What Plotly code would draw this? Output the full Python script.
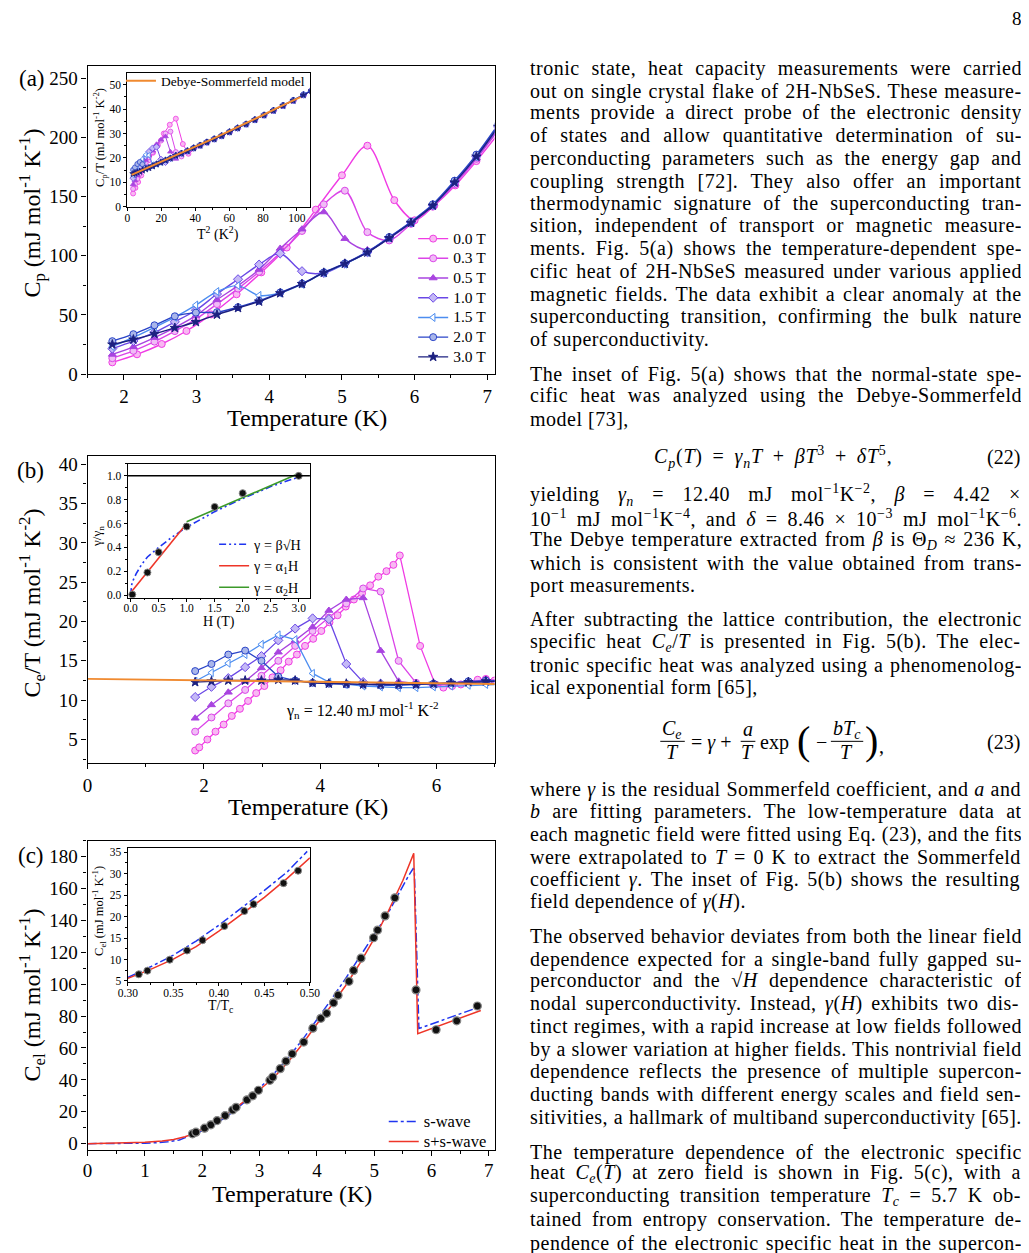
import re
import plotly.graph_objects as go

W, H = 1029, 1253
OX, OY = 8, 8   # page body margin of the html page
FONT = "Liberation Serif"

# ---------------- panel (a): Cp vs T ----------------
T_A = [1.84, 2.13, 2.42, 2.70, 2.99, 3.28, 3.57, 3.86, 4.15, 4.45, 4.75, 5.04, 5.35, 5.65, 5.95, 6.25, 6.55, 6.85, 7.15]
T_A0 = [1.84, 2.18, 2.52, 2.86, 3.20, 3.55, 3.89, 4.24, 4.64, 5.00, 5.35, 5.72, 6.00, 6.27, 6.56, 6.85, 7.15]
CP_00 = [10.0, 16.8, 25.5, 36.5, 50.5, 67.5, 86.0, 107.0, 139.0, 168.0, 193.0, 147.0, 130.0, 142.5, 159.5, 180.0, 203.0]
CP_03 = [13.5, 19.7, 27.5, 36.4, 46.5, 59.2, 72.3, 86.5, 102.5, 121.0, 143.5, 155.0, 120.0, 113.0, 127.0, 141.5, 160.5, 182.0, 206.0]
CP_05 = [16.7, 23.1, 30.9, 39.4, 49.5, 62.8, 74.8, 88.4, 106.2, 122.5, 137.0, 114.5, 105.0, 114.8, 127.5, 142.0, 161.0, 182.5, 207.0]
CP_10 = [21.6, 28.0, 35.3, 44.2, 54.0, 67.7, 80.2, 92.6, 102.0, 87.0, 85.5, 93.4, 103.0, 115.4, 128.2, 142.8, 162.3, 184.0, 209.0]
CP_15 = [23.5, 31.0, 39.5, 48.2, 58.4, 69.8, 74.8, 66.5, 68.6, 76.0, 85.5, 93.0, 102.9, 115.2, 128.0, 142.6, 162.5, 184.0, 209.5]
CP_20 = [27.9, 33.8, 41.3, 48.9, 52.0, 52.4, 56.6, 62.0, 69.0, 76.5, 86.0, 93.6, 103.5, 115.8, 128.8, 143.5, 163.5, 185.5, 211.0]
CP_30 = [25.1, 29.3, 34.1, 39.1, 44.1, 50.3, 55.9, 61.4, 68.4, 76.2, 85.7, 93.3, 102.8, 115.0, 127.9, 142.4, 162.0, 183.8, 209.0]

# inset (a): Cp/T vs T^2
X_IN = [3.4, 4.5, 5.9, 7.3, 8.9, 10.8, 12.7, 14.9, 17.2, 19.8, 22.5, 25.4, 28.6, 31.9, 35.4, 39.1, 42.9,
        46.9, 51.2, 55.6, 60.2, 65.0, 70.0, 75.2, 80.6, 86.1, 91.8, 97.8, 103.8, 108.5]
CPT_30 = [13.5, 13.7, 14.1, 14.4, 14.9, 15.4, 15.9, 16.6, 17.4, 18.1, 19.0, 19.8, 20.9, 21.8, 22.8, 24.0, 25.1,
          26.4, 27.7, 29.0, 30.6, 32.2, 33.8, 35.6, 37.5, 39.4, 41.4, 43.5, 45.8, 47.5]
CPT_20 = [15.1, 16.1, 17.5, 18.3, 17.4, 16.0, 16.0, 16.7, 17.5, 18.2, 19.1, 19.9, 21.0, 22.0, 23.0, 24.2, 25.3,
          26.6, 27.9, 29.2, 30.8, 32.4, 34.0, 35.8, 37.7, 39.6, 41.7, 43.8, 46.1, 47.8]
CPT_15 = [13.0, 15.0, 16.5, 18.0, 19.5, 21.3, 21.1, 17.2] + CPT_30[8:]
CPT_10 = [11.7, 13.1, 14.6, 16.4, 18.1, 20.6, 22.5, 24.0, 24.5, 19.4, 18.2] + CPT_30[11:]
CPT_05 = [9.1, 10.8, 12.8, 14.6, 16.6, 19.1, 21.0, 22.9, 25.6, 27.4, 28.8, 22.5, 19.6] + CPT_30[13:]
CPT_03 = [7.3, 9.2, 11.4, 13.5, 15.6, 18.0, 20.3, 22.4, 24.7, 27.1, 30.0, 30.8, 22.4, 20.6] + CPT_30[14:]
X_IN0 = [3.4, 4.75, 6.35, 8.18, 10.24, 12.6, 15.1, 18.0, 21.5, 25.0, 28.6, 32.7, 36.0] + X_IN[16:]
CPT_00 = [5.4, 7.7, 10.1, 12.8, 15.8, 19.0, 22.1, 25.2, 30.0, 33.6, 36.1, 25.7, 21.7] + CPT_30[16:]
X_DS = [2.5, 10, 20, 30, 40, 50, 60, 70, 80, 90, 102]
CPT_DS = [13.0, 15.3, 18.4, 21.4, 24.5, 27.7, 31.0, 34.2, 37.6, 41.0, 44.9]

# ---------------- panel (b): Ce/T vs T ----------------
T_B = [1.85, 2.13, 2.42, 2.71, 2.99, 3.28, 3.57, 3.87, 4.15, 4.45, 4.74, 5.04, 5.35, 5.65, 5.95, 6.25, 6.55, 6.85, 7.1]
CE_30 = [12.3, 12.4, 12.5, 12.5, 12.5, 12.6, 12.5, 12.2, 12.1, 12.1, 12.0, 12.0, 12.0, 12.0, 12.1, 12.2, 12.3, 12.4, 12.4]
CE_20 = [13.7, 14.6, 15.8, 16.3, 15.0, 13.0, 12.5, 12.2, 12.1, 12.0, 12.0, 11.9, 11.9, 12.0, 12.1, 12.2, 12.4, 12.5, 12.5]
CE_15 = [12.4, 13.5, 14.7, 15.8, 17.1, 18.3, 17.7, 13.4, 12.3, 12.0, 11.8, 11.7, 11.6, 11.6, 11.7, 11.8, 11.9, 12.0, 12.0]
CE_10 = [10.4, 11.7, 12.8, 14.2, 15.6, 17.6, 19.1, 20.4, 20.3, 14.6, 12.3, 12.1, 12.0, 12.0, 12.0, 12.1, 12.3, 12.4, 12.4]
CE_05 = [7.7, 9.4, 11.0, 12.4, 14.1, 16.1, 17.6, 19.3, 21.4, 22.8, 23.0, 16.3, 12.4, 12.1, 12.0, 12.1, 12.3, 12.5, 12.5]
CE_03 = [6.0, 7.8, 9.6, 11.3, 13.1, 15.0, 16.9, 18.8, 20.5, 22.3, 24.2, 23.8, 15.0, 12.2, 11.9, 12.0, 12.3, 12.6, 12.5]
T_B0 = [1.85, 1.92, 2.06, 2.20, 2.34, 2.48, 2.62, 2.76, 2.90, 3.04, 3.18, 3.32, 3.46, 3.60, 3.74, 3.88, 4.02,
        4.16, 4.30, 4.44, 4.58, 4.72, 4.86, 5.00, 5.14, 5.26, 5.37, 5.72, 5.98, 6.12, 6.27, 6.42, 6.56, 6.71, 6.85, 7.0]
CE_00 = [3.6, 4.0, 5.0, 6.0, 6.9, 8.0, 8.9, 9.9, 10.9, 11.8, 12.9, 13.8, 14.9, 15.8, 16.9, 17.8, 18.8,
         19.9, 20.8, 21.9, 22.8, 23.6, 24.6, 25.7, 26.4, 27.2, 28.4, 16.9, 12.0, 11.6, 11.8, 12.0, 12.3, 12.6, 12.7, 12.5]
T_GN = [0.0, 7.1]
CE_GN = [12.7, 12.05]

# inset (b): gamma/gamma_n vs H
H_PTS = [0.03, 0.3, 0.5, 1.0, 1.5, 2.0, 3.0]
G_PTS = [0.005, 0.19, 0.36, 0.575, 0.74, 0.855, 1.0]
H_SQRT = [0.0, 0.02, 0.05, 0.1, 0.2, 0.3, 0.5, 0.75, 1.0, 1.5, 2.0, 2.5, 3.0]
G_SQRT = [0.0, 0.09, 0.13, 0.18, 0.26, 0.32, 0.40, 0.49, 0.57, 0.70, 0.81, 0.91, 0.99]
H_LIN1 = [0.0, 1.0]
G_LIN1 = [0.02, 0.60]
H_LIN2 = [1.0, 3.0]
G_LIN2 = [0.615, 1.02]

# ---------------- panel (c): Cel vs T ----------------
T_C = [1.83, 1.89, 2.04, 2.15, 2.26, 2.40, 2.53, 2.59, 2.78, 2.88, 2.98, 3.18, 3.23, 3.36, 3.46, 3.57, 3.77,
       3.93, 4.07, 4.17, 4.29, 4.37, 4.56, 4.64, 4.77, 4.99, 5.06, 5.19, 5.36, 5.73, 6.08, 6.44, 6.80]
CEL = [6.2, 7.2, 9.7, 11.8, 14.5, 17.6, 21.1, 22.8, 27.5, 30.0, 33.5, 39.7, 41.8, 47.0, 51.7, 56.3, 63.7,
       72.4, 78.6, 81.7, 88.3, 93.1, 101.8, 108.6, 116.3, 129.1, 133.9, 142.8, 154.1, 96.4, 71.4, 77.0, 86.3]
T_SS = [0.0, 0.5, 1.0, 1.3, 1.5, 1.7, 1.85, 2.0, 2.25, 2.5, 2.75, 3.0, 3.25, 3.5, 3.75, 4.0, 4.25, 4.5,
        4.75, 5.0, 5.25, 5.5, 5.69, 5.76, 6.86]
CEL_SS = [0.0, 0.3, 0.9, 1.6, 2.6, 4.3, 6.3, 9.2, 14.0, 20.3, 27.0, 33.8, 41.5, 51.4, 62.5, 75.0, 86.5, 99.0,
          113.0, 128.5, 146.0, 165.0, 182.0, 69.0, 83.5]
T_S = [0.0, 0.5, 1.0, 1.2, 1.4, 1.6, 1.85, 2.0, 2.25, 2.5, 2.75, 3.0, 3.25, 3.5, 3.75, 4.0, 4.25, 4.5,
       4.75, 5.0, 5.25, 5.45, 5.6, 5.68, 5.70, 5.78, 6.86]
CEL_S = [0.0, 0.05, 0.3, 0.6, 1.2, 2.3, 5.6, 8.0, 12.8, 19.0, 26.5, 34.8, 43.8, 54.0, 65.2, 77.5, 90.3, 103.5,
         117.0, 131.0, 145.0, 158.5, 168.0, 172.5, 172.0, 72.2, 86.0]

# inset (c): Cel vs T/Tc
TR_PTS = [0.312, 0.3215, 0.346, 0.365, 0.382, 0.406, 0.428, 0.438, 0.471, 0.487]
CR_PTS = [6.55, 7.4, 9.96, 12.1, 14.5, 17.8, 21.3, 22.9, 27.8, 30.7]
TR_SS = [0.30, 0.325, 0.35, 0.375, 0.40, 0.425, 0.45, 0.475, 0.50]
CR_SS = [5.6, 7.7, 10.1, 13.0, 16.6, 20.5, 24.5, 28.9, 33.7]
TR_S = [0.30, 0.325, 0.35, 0.375, 0.40, 0.425, 0.45, 0.475, 0.497]
CR_S = [5.8, 8.3, 11.0, 14.3, 18.0, 22.0, 26.1, 30.4, 35.2]

FIELDS = ["0.0 T", "0.3 T", "0.5 T", "1.0 T", "1.5 T", "2.0 T", "3.0 T"]
COLORS = ["#F03CE4", "#DB45E8", "#A944E0", "#6A48E6", "#4C8DF0", "#2A44C8", "#1C2080"]
FILLS = ["#F8B8F2", "#F0BCF6", "#A944E0", "#C4B8F6", "#FFFFFF", "#A9B6EA", "#1C2080"]
SYMBOLS = ["circle", "circle", "triangle-up", "diamond", "triangle-left", "circle", "star"]


def px(x):
    return (x - OX) / W


def py(y):
    return 1 - (y - OY) / H


def big(s, size):
    # legend text drawn larger than the legend row height would allow
    return "<span style='font-size:%.1fpx'>%s</span>" % (size, s)


def axis(dom, rng, dtick, minor, tick0=0, size=19, tl=5, anchor=None, fmt=None, standoff=0):
    d = dict(domain=dom, range=rng, dtick=dtick, tick0=tick0,
             showline=True, linecolor="black", linewidth=1.3, mirror=True,
             ticks="outside", ticklen=tl, tickwidth=1.2, tickcolor="black", ticklabelstandoff=standoff,
             minor=dict(dtick=minor, ticks="outside", ticklen=tl * 0.6, tickwidth=1, tickcolor="black", showgrid=False),
             showgrid=False, zeroline=False, anchor=anchor, fixedrange=True,
             tickfont=dict(family=FONT, size=size, color="black"))
    if fmt:
        d["tickformat"] = fmt
    return d


fig = go.Figure()

# (a) main
a_x = [T_A0] + [T_A] * 6
a_y = [CP_00, CP_03, CP_05, CP_10, CP_15, CP_20, CP_30]
for i in range(7):
    fig.add_trace(go.Scatter(
        x=a_x[i], y=a_y[i], mode="lines+markers", name=big(FIELDS[i], 15.5), xaxis="x", yaxis="y",
        line=dict(color=COLORS[i], width=1.4, shape="spline", smoothing=0.9),
        marker=dict(symbol=SYMBOLS[i], size=7, color=FILLS[i], line=dict(color=COLORS[i], width=1)),
        legend="legend"))

# (a) inset
in_x = [X_IN0] + [X_IN] * 6
in_y = [CPT_00, CPT_03, CPT_05, CPT_10, CPT_15, CPT_20, CPT_30]
for i in range(7):
    fig.add_trace(go.Scatter(
        x=in_x[i], y=in_y[i], mode="lines+markers", showlegend=False, xaxis="x2", yaxis="y2",
        line=dict(color=COLORS[i], width=1),
        marker=dict(symbol=SYMBOLS[i], size=5, color=FILLS[i], line=dict(color=COLORS[i], width=0.8))))
fig.add_trace(go.Scatter(x=X_DS, y=CPT_DS, mode="lines", name="Debye-Sommerfeld model",
                         xaxis="x2", yaxis="y2", line=dict(color="#F08A30", width=2), legend="legend2"))

# (b) main
b_x = [T_B0] + [T_B] * 6
b_y = [CE_00, CE_03, CE_05, CE_10, CE_15, CE_20, CE_30]
for i in range(7):
    fig.add_trace(go.Scatter(
        x=b_x[i], y=b_y[i], mode="lines+markers", showlegend=False, xaxis="x3", yaxis="y3",
        line=dict(color=COLORS[i], width=1.3),
        marker=dict(symbol=SYMBOLS[i], size=7, color=FILLS[i], line=dict(color=COLORS[i], width=1))))
fig.add_trace(go.Scatter(x=T_GN, y=CE_GN, mode="lines", showlegend=False, xaxis="x3", yaxis="y3",
                         line=dict(color="#F08A30", width=1.8)))

# (b) inset
fig.add_trace(go.Scatter(x=H_SQRT, y=G_SQRT, mode="lines", name="γ = β√H", xaxis="x4", yaxis="y4",
                         line=dict(color="#1F35F0", width=1.6, dash="7px,3px,2px,3px,2px,3px"),
                         legend="legend3"))
fig.add_trace(go.Scatter(x=H_LIN1, y=G_LIN1, mode="lines", name="γ = α<sub>1</sub>H", xaxis="x4", yaxis="y4",
                         line=dict(color="#EE3528", width=1.6), legend="legend3"))
fig.add_trace(go.Scatter(x=H_LIN2, y=G_LIN2, mode="lines", name="γ = α<sub>2</sub>H", xaxis="x4", yaxis="y4",
                         line=dict(color="#3C9A2A", width=1.6), legend="legend3"))
fig.add_trace(go.Scatter(x=H_PTS, y=G_PTS, mode="markers", showlegend=False, xaxis="x4", yaxis="y4",
                         marker=dict(size=7, color="#111111", line=dict(color="#888888", width=1))))

# (c) main
fig.add_trace(go.Scatter(x=T_S, y=CEL_S, mode="lines", name=big("s-wave", 16.5), xaxis="x5", yaxis="y5",
                         line=dict(color="#1F35F0", width=1.5, dash="dashdot"), legend="legend4"))
fig.add_trace(go.Scatter(x=T_SS, y=CEL_SS, mode="lines", name=big("s+s-wave", 16.5), xaxis="x5", yaxis="y5",
                         line=dict(color="#EE3528", width=1.5), legend="legend4"))
fig.add_trace(go.Scatter(x=T_C, y=CEL, mode="markers", showlegend=False, xaxis="x5", yaxis="y5",
                         marker=dict(size=8, color="#111111", line=dict(color="#888888", width=1.2))))

# (c) inset
fig.add_trace(go.Scatter(x=TR_S, y=CR_S, mode="lines", showlegend=False, xaxis="x6", yaxis="y6",
                         line=dict(color="#1F35F0", width=1.5, dash="dashdot")))
fig.add_trace(go.Scatter(x=TR_SS, y=CR_SS, mode="lines", showlegend=False, xaxis="x6", yaxis="y6",
                         line=dict(color="#EE3528", width=1.5)))
fig.add_trace(go.Scatter(x=TR_PTS, y=CR_PTS, mode="markers", showlegend=False, xaxis="x6", yaxis="y6",
                         marker=dict(size=7, color="#111111", line=dict(color="#888888", width=1))))

leg = dict(xanchor="left", yanchor="top", bgcolor="rgba(0,0,0,0)", borderwidth=0,
           tracegroupgap=0, itemclick=False, itemdoubleclick=False)

fig.update_layout(
    width=W, height=H, autosize=False, margin=dict(l=0, r=0, t=0, b=0),
    paper_bgcolor="white", plot_bgcolor="white",
    xaxis=axis([px(79), px(494)], [1.5, 7.1], 1, 0.5, anchor="y"),
    yaxis=axis([py(376), py(65)], [0, 260], 50, 25, anchor="x"),
    xaxis2=axis([px(119.5), px(305.5)], [0, 107.5], 20, 10, size=11.5, tl=3, anchor="y2", standoff=-3),
    yaxis2=axis([py(206.7), py(72)], [0, 54.7], 10, 5, size=11.5, tl=3, anchor="x2"),
    xaxis3=axis([px(79), px(494)], [0, 7.0], 2, 1, anchor="y3"),
    yaxis3=axis([py(769), py(459)], [2, 41], 5, 2.5, tick0=5, anchor="x3"),
    xaxis4=axis([px(120), px(305.7)], [-0.05, 3.2], 0.5, 0.25, size=11.5, tl=3, anchor="y4", fmt=".1f", standoff=-3),
    yaxis4=axis([py(601.7), py(466.7)], [-0.02, 1.10], 0.2, 0.1, size=11.5, tl=3, anchor="x4", fmt=".1f"),
    xaxis5=axis([px(79), px(494)], [0, 7.1], 1, 0.5, anchor="y5", standoff=-2),
    yaxis5=axis([py(1160), py(847.3)], [-4, 190], 20, 10, anchor="x5"),
    xaxis6=axis([px(120), px(305.7)], [0.30, 0.50], 0.05, 0.025, tick0=0.3, size=11.5, tl=3, anchor="y6",
                fmt=".2f", standoff=-3),
    yaxis6=axis([py(990), py(854.3)], [4.8, 36.1], 5, 2.5, tick0=5, size=11.5, tl=3, anchor="x6"),
    legend=dict(leg, x=px(411), y=py(224), font=dict(family=FONT, size=12.85, color="black")),
    legend2=dict(leg, x=px(113), y=py(64), font=dict(family=FONT, size=13.5, color="black")),
    legend3=dict(leg, x=px(208), y=py(532), font=dict(family=FONT, size=14.2, color="black")),
    legend4=dict(leg, x=px(381), y=py(1116), font=dict(family=FONT, size=13.1, color="black")),
)

# reference line gamma/gamma_n = 1 in inset (b)
fig.add_shape(type="line", xref="x4 domain", yref="y4", x0=0, x1=1, y0=1.0, y1=1.0,
              line=dict(color="black", width=1.5))

anns = []


def text(x, y, s, size, anchor="center", angle=0):
    anns.append(dict(x=px(x), y=py(y), xref="paper", yref="paper", text=s, showarrow=False,
                     xanchor=anchor, yanchor="middle", textangle=angle,
                     font=dict(family=FONT, size=size, color="black")))


# figure labels and axis titles
text(22, 77, "(a)", 23)
text(21, 473, "(b)", 23)
text(21, 862, "(c)", 23)
text(303, 420, "Temperature (K)", 24)
text(304, 813, "Temperature (K)", 24)
text(287, 1204, "Temperature (K)", 24)
text(22, 213, "C<sub>p</sub> (mJ mol<sup>-1</sup> K<sup>-1</sup>)", 24, angle=-90)
text(22, 607, "C<sub>e</sub>/T (mJ mol<sup>-1</sup> K<sup>-2</sup>)", 24, angle=-90)
text(22, 1003, "C<sub>el</sub> (mJ mol<sup>-1</sup> K<sup>-1</sup>)", 24, angle=-90)
text(91, 137, "C<sub>p</sub>/T (mJ mol<sup>-1</sup> K<sup>-2</sup>)", 12.5, angle=-90)
text(212, 234, "T<sup>2</sup> (K<sup>2</sup>)", 14)
text(89, 540, "γ/γ<sub>n</sub>", 13, angle=-90)
text(213, 626, "H (T)", 14)
text(90, 918, "C<sub>el</sub> (mJ mol<sup>-1</sup> K<sup>-1</sup>)", 12.5, angle=-90)
text(215, 1015, "T/T<sub>c</sub>", 14)
text(279, 715, "γ<sub>n</sub> = 12.40 mJ mol<sup>-1</sup> K<sup>-2</sup>", 16, anchor="left")

# page text (right column); last lines of paragraphs are not justified
BODY = [
    (67, "tronic state, heat capacity measurements were carried"),
    (90, "out on single crystal flake of 2H-NbSeS. These measure-"),
    (112, "ments provide a direct probe of the electronic density"),
    (135, "of states and allow quantitative determination of su-"),
    (158, "perconducting parameters such as the energy gap and"),
    (181, "coupling strength [72]. They also offer an important"),
    (204, "thermodynamic signature of the superconducting tran-"),
    (226, "sition, independent of transport or magnetic measure-"),
    (249, "ments. Fig. 5(a) shows the temperature-dependent spe-"),
    (272, "cific heat of 2H-NbSeS measured under various applied"),
    (295, "magnetic fields. The data exhibit a clear anomaly at the"),
    (318, "superconducting transition, confirming the bulk nature"),
    (341, "of superconductivity."),
    (376, "The inset of Fig. 5(a) shows that the normal-state spe-"),
    (398, "cific heat was analyzed using the Debye-Sommerfeld"),
    (421, "model [73],"),
    (498, "yielding <i>γ<sub>n</sub></i> = 12.40 mJ mol<sup>−1</sup>K<sup>−2</sup>, <i>β</i> = 4.42 ×"),
    (521, "10<sup>−1</sup> mJ mol<sup>−1</sup>K<sup>−4</sup>, and <i>δ</i> = 8.46 × 10<sup>−3</sup> mJ mol<sup>−1</sup>K<sup>−6</sup>."),
    (544, "The Debye temperature extracted from <i>β</i> is Θ<sub><i>D</i></sub> ≈ 236 K,"),
    (567, "which is consistent with the value obtained from trans-"),
    (590, "port measurements."),
    (624, "After subtracting the lattice contribution, the electronic"),
    (647, "specific heat <i>C<sub>e</sub></i>/<i>T</i> is presented in Fig. 5(b). The elec-"),
    (670, "tronic specific heat was analyzed using a phenomenolog-"),
    (693, "ical exponential form [65],"),
    (796, "where <i>γ</i> is the residual Sommerfeld coefficient, and <i>a</i> and"),
    (818, "<i>b</i> are fitting parameters. The low-temperature data at"),
    (841, "each magnetic field were fitted using Eq. (23), and the fits"),
    (864, "were extrapolated to <i>T</i> = 0 K to extract the Sommerfeld"),
    (887, "coefficient <i>γ</i>. The inset of Fig. 5(b) shows the resulting"),
    (909, "field dependence of <i>γ</i>(<i>H</i>)."),
    (944, "The observed behavior deviates from both the linear field"),
    (967, "dependence expected for a single-band fully gapped su-"),
    (989, "perconductor and the √<i>H</i> dependence characteristic of"),
    (1012, "nodal superconductivity. Instead, <i>γ</i>(<i>H</i>) exhibits two dis-"),
    (1035, "tinct regimes, with a rapid increase at low fields followed"),
    (1058, "by a slower variation at higher fields. This nontrivial field"),
    (1081, "dependence reflects the presence of multiple supercon-"),
    (1104, "ducting bands with different energy scales and field sen-"),
    (1127, "sitivities, a hallmark of multiband superconductivity [65]."),
    (1162, "The temperature dependence of the electronic specific"),
    (1184, "heat <i>C<sub>e</sub></i>(<i>T</i>) at zero field is shown in Fig. 5(c), with a"),
    (1207, "superconducting transition temperature <i>T<sub>c</sub></i> = 5.7 K ob-"),
    (1230, "tained from entropy conservation. The temperature de-"),
    (1254, "pendence of the electronic specific heat in the supercon-"),
]
PARA_END = {341, 421, 590, 693, 909}

# approximate Times advance widths (1/1000 em) to justify the column
WID = {}
for chars, w in [(" ,.", 250), ("ijlt:;/", 278), ("fr()[]-I!", 333), ("sJ", 389), ("acez?", 444),
                 ("bdghknopquvxy0123456789", 500), ("FPS", 556), ("+=×−", 564), ("ETLZ", 611),
                 ("BCR", 667), ("ADGHKNOQUVXYwΘ", 722), ("m", 778), ("M", 889), ("W", 944),
                 ("γβ", 480), ("δ", 470), ("≈√", 549)]:
    for c in chars:
        WID[c] = w

BODY_SIZE = 20
COL_W = 492
LS = 0.5


def natural(html):
    width, nchar, nsp, depth = 0.0, 0, 0, 0
    for tok in re.split(r"(<[^>]+>)", html):
        if tok.startswith("<"):
            if tok in ("<sub>", "<sup>"):
                depth += 1
            elif tok in ("</sub>", "</sup>"):
                depth -= 1
            continue
        for c in re.sub(" +", " ", tok):
            width += WID.get(c, 500) * 0.7 ** depth
            nchar += 1
            nsp += c == " "
    return width / 1000 * BODY_SIZE, nchar, nsp


for yy, s in BODY:
    w, nc, ns = natural(s)
    ls = min(LS, (COL_W - 2 - w) / nc)   # tighten the letters of lines that are too long
    ws = 0.0
    if yy not in PARA_END and ns:
        ws = max(0.0, (COL_W - w - nc * ls) / ns)
    s2 = "<span style='letter-spacing:%.2fpx; word-spacing:%.2fpx'>%s</span>" % (ls, ws, s)
    text(528, yy, s2, BODY_SIZE, anchor="left")

text(1027, 17, "8", 19)

# equation (22)
text(778, 460, "<span style='letter-spacing:0.8px; word-spacing:4px'><i>C<sub>p</sub></i>(<i>T</i>) = "
               "<i>γ<sub>n</sub>T</i> + <i>βT</i><sup>3</sup> + <i>δT</i><sup>5</sup>,</span>", 20)
text(1032, 460, "(22)", 20, anchor="right")

# equation (23)
text(675, 735, "<i>C<sub>e</sub></i>", 20)
text(675, 758, "<i>T</i>", 20)
text(715, 748, "= <i>γ</i> +", 20)
text(752, 735, "<i>a</i>", 20)
text(752, 758, "<i>T</i>", 20)
text(780, 748, "exp", 20)
text(809, 746, "(", 40)
text(827, 748, "−", 20)
text(853, 735, "<i>bT<sub>c</sub></i>", 20)
text(853, 758, "<i>T</i>", 20)
text(878, 746, ")", 40)
text(889, 752, ",", 20)
text(1032, 748, "(23)", 20, anchor="right")
for x0, x1 in [(663, 688), (745, 760), (837, 870)]:
    fig.add_shape(type="line", xref="paper", yref="paper", x0=px(x0), x1=px(x1), y0=py(747), y1=py(747),
                  line=dict(color="black", width=1))

fig.update_layout(annotations=anns)
fig.write_html("out.html")
